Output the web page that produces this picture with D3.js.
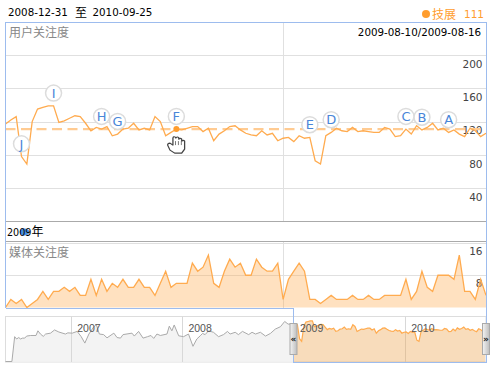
<!DOCTYPE html>
<html>
<head>
<meta charset="utf-8">
<script src="https://cdn.jsdelivr.net/npm/d3@7"></script>
<style>
  html, body { margin: 0; background: #fff; }
  svg { display: block; }
  text { font-family: "DejaVu Sans", sans-serif; }
  .cjk { font-family: "Noto Sans CJK SC", sans-serif; }
</style>
</head>
<body>
<div id="chart"></div>
<script>
// Weekly values of the selected range, 2008-12-31 to 2010-09-25.
const mainValues = [
  117, 122, 126, 78, 69, 120, 135, 137, 139, 139,
  119, 121, 124, 127, 126, 118, 109, 113, 111, 114,
  103, 105, 111, 112, 118, 110, 112, 110, 126, 120,
  103, 107, 111, 110, 112, 114, 114, 108, 112, 97,
  105, 109, 114, 115, 110, 106, 104, 103, 109, 104,
  106, 97, 100, 101, 96, 103, 100, 101, 73, 69,
  103, 107, 112, 109, 108, 113, 108, 109, 108, 107,
  107, 113, 111, 102, 103, 111, 105, 115, 110, 113,
  118, 110, 112, 107, 110, 105, 102, 112, 109, 102,
  106
];
const mediaValues = [
  0, 2, 1, 2, 0, 1, 2, 4, 2, 4,
  4, 5, 4, 5, 3, 3, 7, 3, 7, 4,
  6, 5, 7, 5, 5, 7, 5, 5, 3, 6,
  9, 5, 6, 6, 6, 11, 9, 10, 13, 6,
  5, 9, 12, 10, 11, 8, 8, 12, 10, 9,
  9, 11, 2, 7, 9, 11, 9, 2, 2, 1,
  2, 3, 2, 2, 2, 3, 2, 2, 3, 2,
  2, 3, 3, 3, 3, 7, 2, 4, 9, 5,
  4, 8, 8, 8, 7, 13, 4, 4, 2, 7,
  3
];

// History before the selection, for the overview strip: weeks since its start, then value.
const historyWeeks = [
  0, 3, 4.3, 5.2, 6.2, 7.1, 7.9, 9, 9.9, 11.8, 14.3, 15.2, 16.4, 17.7, 18.8, 21.1, 23, 25, 28.1, 29.2,
  31.3, 33.6, 35.5, 37.2, 39.1, 41.4, 42.6, 44, 46, 47.6, 50.8, 52.3, 53.9, 55.1, 59.3, 60.4, 62.4, 64.5, 66.6, 68.2,
  69.5, 71, 72.6, 75.7, 76.8, 78, 79.1, 81.2, 83.5, 85.8, 87.9, 89.7, 91.3, 92.4, 93.6, 95.2, 97.5, 99.9, 102.2, 104.1,
  105.3, 107.7, 109.2, 111.1, 114, 115.6, 117.2, 119.5, 121.9, 124.2, 126.5, 128.9, 130.9, 132.5, 133.5
];
const historyValues = [
  0, 0, 85, 77, 82, 77, 80, 80, 87, 89, 89, 105, 94, 86, 94, 97, 108, 101, 94, 98,
  97, 103, 85, 63, 94, 119, 126, 94, 92, 81, 97, 82, 80, 92, 97, 87, 103, 80, 85, 89,
  79, 94, 89, 94, 121, 105, 125, 88, 85, 94, 52, 77, 88, 96, 92, 105, 100, 85, 92, 103,
  94, 100, 92, 103, 92, 100, 94, 100, 87, 96, 111, 119, 137, 128, 128
];

const mainAverage = 111;
const mainTicks = [40, 80, 120, 160, 200];
const mediaTicks = [8, 16];
const pinLetters = ['A', 'B', 'C', 'D', 'E', 'F', 'G', 'H', 'I', 'J'];
const pinWeeks = [83, 78, 75, 61, 57, 32, 21, 18, 9, 3];
const activeWeek = 32;
const yearGridWeek = 52;
const overviewYears = ['2007', '2008', '2009', '2010'];

const width = 492, height = 367;
const left = 5.5, right = 486;
const blue = '#9dbcee', orange = '#ffab4f', gridColor = '#e0e0e0';

const parseDay = d3.timeParse('%Y-%m-%d');
const overviewStart = parseDay('2006-06-01');
const rangeStart = parseDay('2008-12-31');
const rangeEnd = parseDay('2010-09-25');
const weekMs = 7 * 864e5;

const svg = d3.select('#chart').append('svg').attr('width', width).attr('height', height);

const x = d3.scaleLinear().domain([0, mainValues.length - 1]).range([left, right]);
const yMain = d3.scaleLinear().domain([0, 200]).range([221.5, 55]);
const yMedia = d3.scaleLinear().domain([0, 16]).range([307.5, 243]);
const xOver = d3.scaleTime().domain([overviewStart, rangeEnd]).range([left, right]);
const yOver = d3.scaleLinear().domain([0, 154]).range([361.5, 316.5]);

// Header row
svg.append('text').attr('x', 8).attr('y', 16).attr('font-size', 10.3).text('2008-12-31');
svg.append('text').attr('class', 'cjk').attr('x', 75).attr('y', 17).attr('font-size', 12).text('至');
svg.append('text').attr('x', 92.5).attr('y', 16).attr('font-size', 10.3).text('2010-09-25');
svg.append('circle').attr('cx', 426).attr('cy', 14).attr('r', 4).attr('fill', '#ff9d2e');
svg.append('text').attr('class', 'cjk').attr('x', 432).attr('y', 19).attr('font-size', 12).attr('fill', '#ff9d2e').text('技展');
svg.append('text').attr('x', 464).attr('y', 18).attr('font-size', 10.5).attr('fill', '#ff9d2e').text(mainAverage);

// Horizontal grid with value labels hanging under each line
function valueAxis(scale, ticks, labelDy) {
  const g = svg.append('g').attr('transform', `translate(${left},0)`)
    .call(d3.axisRight(scale).tickValues(ticks).tickSize(right - left));
  g.select('.domain').remove();
  g.selectAll('line').attr('stroke', gridColor).attr('shape-rendering', 'crispEdges');
  g.selectAll('text').attr('x', 477).attr('dy', labelDy).attr('text-anchor', 'end')
    .attr('font-family', '"DejaVu Sans", sans-serif').attr('font-size', 10.5).attr('fill', '#444');
}
valueAxis(yMain, mainTicks, 12.3);
valueAxis(yMedia, mediaTicks, 11.3);

// Year line crossing both panels
svg.append('line').attr('x1', Math.round(x(yearGridWeek)) + .5).attr('x2', Math.round(x(yearGridWeek)) + .5)
  .attr('y1', 22).attr('y2', 308).attr('stroke', gridColor);

// Panel dividers and date strip
svg.append('rect').attr('x', left).attr('y', 221.5).attr('width', right - left).attr('height', 20).attr('fill', '#fff');
svg.selectAll('line.divider').data([221.5, 241.5]).enter().append('line').attr('class', 'divider')
  .attr('x1', left).attr('x2', right).attr('y1', d => d).attr('y2', d => d).attr('stroke', '#aaa');
svg.append('ellipse').attr('cx', 24.5).attr('cy', 232).attr('rx', 5).attr('ry', 3.5).attr('fill', '#4a90e0');
const stripLabel = svg.append('text').attr('x', 7).attr('y', 236);
stripLabel.append('tspan').attr('font-size', 9.6).text('2009');
stripLabel.append('tspan').attr('font-size', 12).style('font-family', '"Noto Sans CJK SC", sans-serif').text('年');

svg.append('text').attr('class', 'cjk').attr('x', 9).attr('y', 37).attr('font-size', 12).attr('fill', '#888').text('用户关注度');
svg.append('text').attr('class', 'cjk').attr('x', 9).attr('y', 257).attr('font-size', 12).attr('fill', '#888').text('媒体关注度');
svg.append('text').attr('x', 481).attr('y', 36).attr('text-anchor', 'end').attr('font-size', 10.3).text('2009-08-10/2009-08-16');

// Main series
svg.append('line').attr('x1', left).attr('x2', right)
  .attr('y1', yMain(mainAverage)).attr('y2', yMain(mainAverage))
  .attr('stroke', '#ffcb92').attr('stroke-width', 2.2).attr('stroke-dasharray', '10,5.5');
svg.append('path').attr('fill', 'none').attr('stroke', orange).attr('stroke-width', 1.3)
  .attr('d', d3.line().x((d, i) => x(i)).y(d => yMain(d))(mainValues));
svg.append('circle').attr('cx', x(activeWeek)).attr('cy', yMain(mainValues[activeWeek]))
  .attr('r', 3).attr('fill', '#ff9d2e');

// Media series
svg.append('path').attr('fill', orange).attr('fill-opacity', .36)
  .attr('d', d3.area().x((d, i) => x(i)).y0(yMedia(0)).y1(d => yMedia(d))(mediaValues));
svg.append('path').attr('fill', 'none').attr('stroke', orange).attr('stroke-width', 1.3)
  .attr('d', d3.line().x((d, i) => x(i)).y(d => yMedia(d))(mediaValues));

// Event pins sit a fixed distance above their week
const pins = svg.selectAll('g.pin').data(pinLetters).enter().append('g').attr('class', 'pin')
  .attr('transform', (d, i) => `translate(${x(pinWeeks[i])},${yMain(mainValues[pinWeeks[i]]) - 12.7})`);
pins.append('circle').attr('r', 8).attr('fill', '#fff').attr('stroke', '#dcdcdc').attr('stroke-width', 1.5);
pins.append('text').attr('text-anchor', 'middle').attr('dy', 4.7).attr('font-size', 13).attr('fill', '#4a86d8').text(d => d);

// Overview strip
const historyDates = historyWeeks.map(w => new Date(+overviewStart + w * weekMs));
const selectedDates = mainValues.map((d, i) => new Date(+rangeStart + i * weekMs));
const overGridDates = overviewYears.map(y => parseDay(y + '-01-01'));

svg.append('rect').attr('x', left).attr('y', 316.5).attr('width', right - left).attr('height', 45.5)
  .attr('fill', '#fff').attr('stroke', '#ddd');

const greyDates = historyDates.concat(selectedDates[0]);
const greyValues = historyValues.concat(mainValues[0]);
svg.append('path').attr('fill', '#f3f3f3')
  .attr('d', d3.area().x((d, i) => xOver(greyDates[i])).y0(yOver(0)).y1(d => yOver(d))(greyValues));

svg.selectAll('line.overgrid').data(overGridDates).enter().append('line').attr('class', 'overgrid')
  .attr('x1', d => Math.round(xOver(d)) + .5).attr('x2', d => Math.round(xOver(d)) + .5)
  .attr('y1', 316.5).attr('y2', 362).attr('stroke', '#d8d8d8');
svg.append('path').attr('fill', 'none').attr('stroke', '#aaa').attr('stroke-width', 1)
  .attr('d', d3.line().x((d, i) => xOver(greyDates[i])).y(d => yOver(d))(greyValues));

svg.append('path').attr('fill', '#eda855').attr('fill-opacity', .4)
  .attr('d', d3.area().x((d, i) => xOver(selectedDates[i])).y0(362).y1(d => yOver(d))(mainValues));
svg.append('path').attr('fill', 'none').attr('stroke', orange).attr('stroke-width', 1.2)
  .attr('d', d3.line().x((d, i) => xOver(selectedDates[i])).y(d => yOver(d))(mainValues));

svg.selectAll('text.year').data(overGridDates).enter().append('text').attr('class', 'year')
  .attr('x', d => xOver(d) + 6.5).attr('y', 331.5)
  .attr('font-size', 10.5).attr('fill', '#555').style('font-family', '"Liberation Sans", sans-serif')
  .text((d, i) => overviewYears[i]);

// Blue outline runs around the panels and steps down around the selection
const selX = Math.round(xOver(rangeStart)) + .5;
svg.append('path').attr('fill', 'none').attr('stroke', blue).attr('shape-rendering', 'crispEdges')
  .attr('d', d3.line()([[left, 308], [left, 22.5], [right, 22.5], [right, 362], [selX, 362], [selX, 308], [left, 308]]));

// Range handles
const defs = svg.append('defs');
const grad = defs.append('linearGradient').attr('id', 'handle');
grad.append('stop').attr('offset', 0).attr('stop-color', '#f4f4f4');
grad.append('stop').attr('offset', 1).attr('stop-color', '#bdbdbd');
const handles = svg.selectAll('g.handle').data([[selX, '«'], [right, '»']]).enter().append('g').attr('class', 'handle')
  .attr('transform', d => `translate(${d[0]},0)`);
handles.append('rect').attr('x', -3.5).attr('y', 323.5).attr('width', 7).attr('height', 31)
  .attr('fill', 'url(#handle)').attr('stroke', '#aaa');
handles.append('text').attr('text-anchor', 'middle').attr('y', 342).attr('font-size', 9).attr('font-weight', 'bold').attr('fill', '#222').text(d => d[1]);

// Hand cursor under the active week
const hand = svg.append('g')
  .attr('transform', `translate(${x(activeWeek) - 0.5},${yMain(mainValues[activeWeek]) + 8}) scale(1.17,1)`)
  .attr('fill', '#fff').attr('stroke', '#444').attr('stroke-width', 1.1).attr('stroke-linejoin', 'round');
hand.append('path').attr('d', 'M-7,8 L-5,13 L-1,16 L5,16 L7.5,12 L7.5,4 Q6.5,2.5 5,4 L5,2 Q4,0.5 2.5,2 L2.5,0.5 Q1,-1 0,1 L-0.5,0 Q-2,-1 -2.5,1 L-2.5,8 L-5,6 Q-7,6 -7,8 Z');
hand.selectAll('line').data([0, 2.5, 5]).enter().append('line')
  .attr('x1', d => d - 0.3).attr('x2', d => d - 0.3).attr('y1', 4).attr('y2', 8).attr('stroke', '#666').attr('stroke-width', .8);
</script>
</body>
</html>
